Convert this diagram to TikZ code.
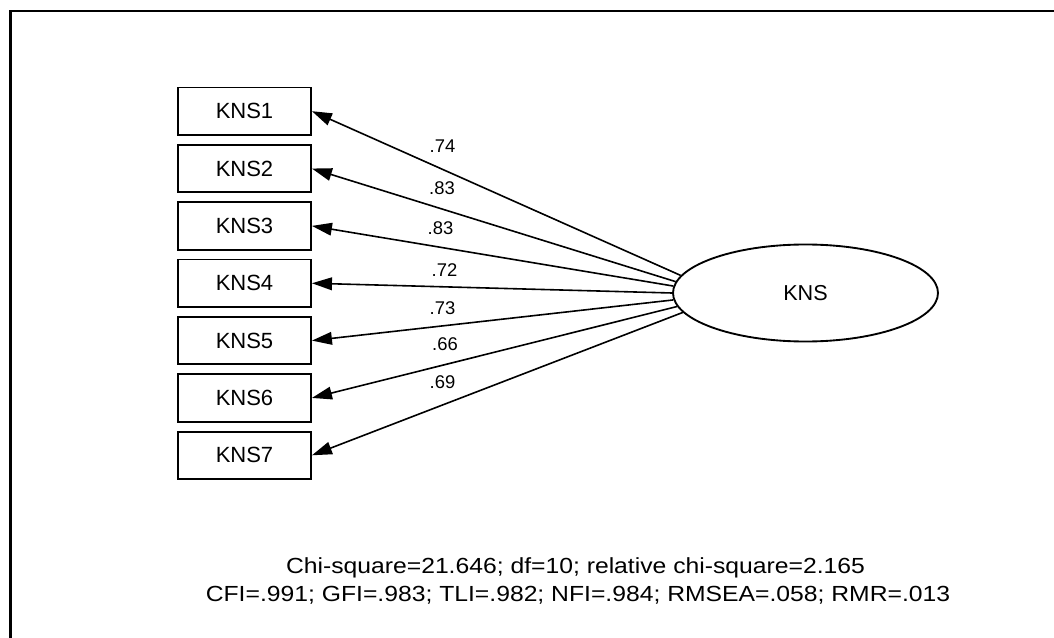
\documentclass[tikz,border=0pt]{standalone}
\usepackage{fontspec}
\setmainfont{Liberation Sans}
\usetikzlibrary{shapes.geometric,arrows.meta}
\begin{document}
\begin{tikzpicture}[x=0.75pt,y=-0.75pt,
  obs/.style={draw, line width=1.4pt, minimum width=99.75pt, minimum height=35.6pt, inner sep=0pt, font=\fontsize{16.5}{18}\selectfont},
  lat/.style={draw, ellipse, line width=1.4pt, minimum width=198.75pt, minimum height=72.75pt, inner sep=0pt, font=\fontsize{16.2}{18}\selectfont},
  load/.style={line width=1.2pt, -{Triangle[length=15pt,width=9.5pt]}},
  coef/.style={anchor=base, inner sep=0pt, font=\fontsize{13.8}{15}\selectfont},
  fitline/.style={anchor=base, inner sep=0pt, font=\fontsize{16.4}{18}\selectfont},
  frameline/.style={line width=2pt}
]
\useasboundingbox (0,0) rectangle (1054,638);
\draw[frameline] (10.5,638) -- (10.5,11) -- (1054,11);

\foreach \i in {1,...,7}{
  \node[obs] (b\i) at (244.5,{111.2+57.35*(\i-1)}) {KNS\i};
}
\node[lat] (kns) at (805.5,293) {KNS};

\coordinate (s1) at (kns.172);
\coordinate (s2) at (kns.175.3);
\coordinate (s3) at (kns.177.7);
\coordinate (s4) at (kns.180);
\coordinate (s5) at (kns.183.3);
\coordinate (s6) at (kns.186.4);
\coordinate (s7) at (kns.189.3);

\foreach \i in {1,...,7}{
  \draw[load] (s\i) -- (b\i.east);
}

\node[coef] (l1) at (442.5,153) {.74};
\node[coef] (l2) at (442,195) {.83};
\node[coef] (l3) at (440.5,235) {.83};
\node[coef] (l4) at (444.5,276.7) {.72};
\node[coef] (l5) at (442.5,314.3) {.73};
\node[coef] (l6) at (445,350.7) {.66};
\node[coef] (l7) at (442.5,388.3) {.69};

\node[fitline] (t1) at (575.5,573.3) {\scalebox{1.13}[1]{Chi-square=21.646; df=10; relative chi-square=2.165}};
\node[fitline] (t2) at (578,601.7) {\scalebox{1.13}[1]{CFI=.991; GFI=.983; TLI=.982; NFI=.984; RMSEA=.058; RMR=.013}};
\end{tikzpicture}
\end{document}
